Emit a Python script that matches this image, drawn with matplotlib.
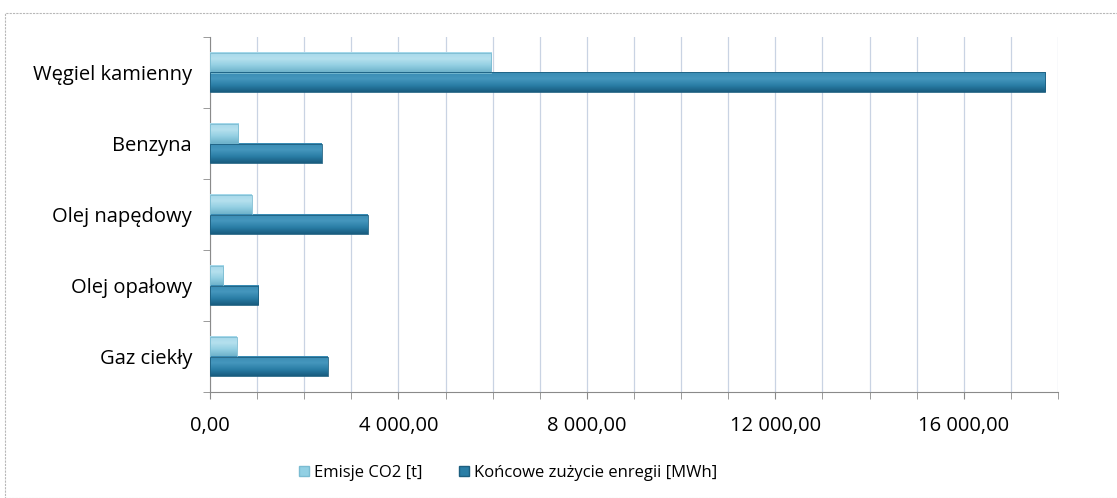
import numpy as np
import matplotlib
matplotlib.use("Agg")
import matplotlib.pyplot as plt
from matplotlib.ticker import FuncFormatter, MultipleLocator
from matplotlib.patches import Rectangle
from matplotlib.colors import LinearSegmentedColormap

plt.rcParams['font.family'] = ['Open Sans', 'DejaVu Sans']

categories = ["Węgiel kamienny", "Benzyna", "Olej napędowy", "Olej opałowy", "Gaz ciekły"]
emisje_co2 = [5970, 600, 890, 280, 570]
zuzycie_energii = [17730, 2370, 3350, 1020, 2500]
series_labels = ["Emisje CO2 [t]", "Końcowe zużycie enregii [MWh]"]

light_col = '#92d0e4'
dark_col = '#2a7ea6'
light_grad = LinearSegmentedColormap.from_list('lg', ['#6fb3cb', '#93cfe2', '#b5e0ee', '#a6d8ea'])
dark_grad = LinearSegmentedColormap.from_list('dg', ['#185b7e', '#2a7ea6', '#4596bd', '#3a8cb4'])


def pl_format(v, pos):
    s = f"{v:,.2f}"
    return s.replace(",", " ").replace(".", ",")


def shade_bars(ax, bars, cmap):
    grad = np.linspace(0, 1, 64).reshape(-1, 1)
    for b in bars:
        x0, y0 = b.get_x(), b.get_y()
        w, hh = b.get_width(), b.get_height()
        ax.imshow(grad, cmap=cmap, extent=[x0, x0 + w, y0, y0 + hh], origin='lower',
                  aspect='auto', zorder=3, interpolation='bilinear')
        b.set_facecolor('none')
        b.set_zorder(4)


fig = plt.figure(figsize=(11.17, 4.98), dpi=100)
ax = fig.add_axes([210 / 1117, 1 - 392 / 498, (1058 - 210) / 1117, (392 - 37) / 498])

# dashed outer frame
fig.patches.append(Rectangle((5 / 1117, 0.0), 1.2, 1 - 13 / 498, transform=fig.transFigure,
                             fill=False, edgecolor='#b8b8b8', linestyle=(0, (2, 1)), linewidth=0.8))

n = len(categories)
y = np.arange(n)[::-1]
h = 0.28

b1 = ax.barh(y + h / 2, emisje_co2, height=h, color=light_col, edgecolor='#7bbcd2',
             linewidth=0.6, label=series_labels[0], zorder=3)
b2 = ax.barh(y - h / 2, zuzycie_energii, height=h, color=dark_col, edgecolor='#1d5f80',
             linewidth=0.6, label=series_labels[1], zorder=3)
shade_bars(ax, b1, light_grad)
shade_bars(ax, b2, dark_grad)

ax.set_xlim(0, 18000)
ax.set_ylim(-0.5, n - 0.5)
ax.xaxis.set_major_locator(MultipleLocator(4000))
ax.xaxis.set_minor_locator(MultipleLocator(1000))
ax.xaxis.set_major_formatter(FuncFormatter(pl_format))
ax.grid(True, axis='x', which='both', color='#c9d3e3', linewidth=0.9, zorder=0)

ax.set_yticks(y)
ax.set_yticklabels(categories)
ax.set_yticks(np.arange(n + 1) - 0.5, minor=True)
ax.tick_params(axis='y', which='major', length=0, pad=13, labelsize=14.5)
ax.tick_params(axis='y', which='minor', length=5, color='#8a8a8a')
ax.tick_params(axis='x', which='both', length=5, color='#8a8a8a', direction='out', labelsize=14.5, pad=12)

for side in ['top', 'right']:
    ax.spines[side].set_visible(False)
ax.spines['left'].set_color('#8a8a8a')
ax.spines['bottom'].set_color('#8a8a8a')

handles = [Rectangle((0, 0), 1, 1, facecolor=light_col, edgecolor='#7bbcd2'),
           Rectangle((0, 0), 1, 1, facecolor=dark_col, edgecolor='#1d5f80')]
fig.legend(handles, series_labels, loc='center', bbox_to_anchor=(508 / 1117, 1 - 473 / 498), ncol=2,
           frameon=False, fontsize=12, handlelength=0.6, handleheight=0.6, handletextpad=0.3,
           columnspacing=2.2)

fig.savefig("out.png", dpi=100)
